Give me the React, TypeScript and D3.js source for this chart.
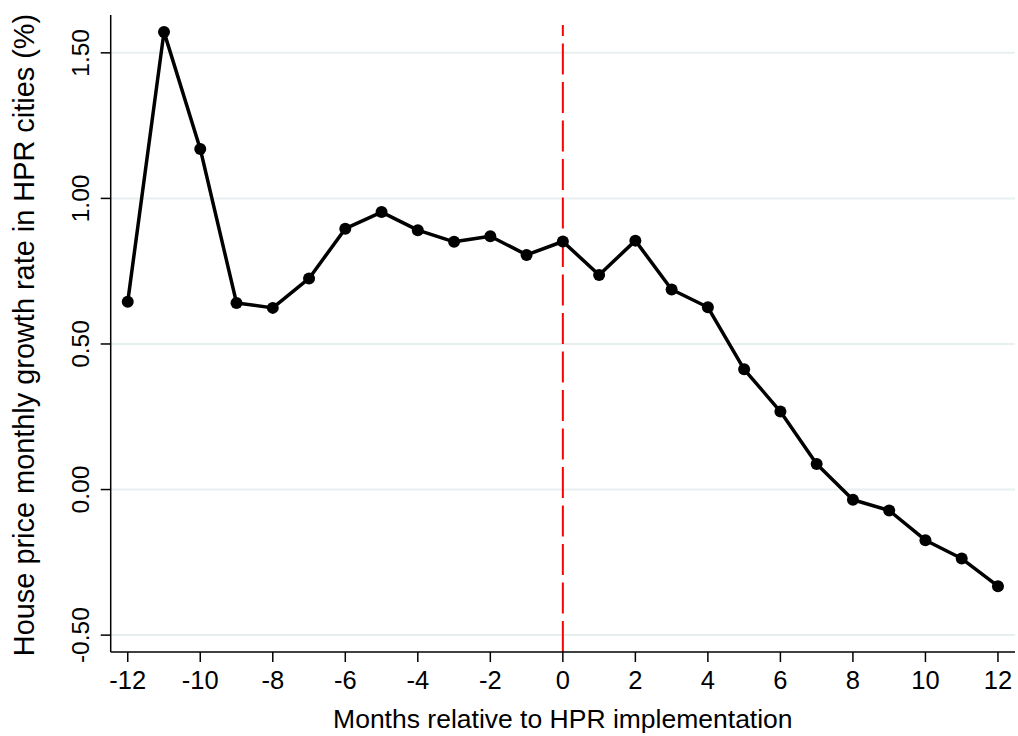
import React from "react";
import * as d3 from "d3";

// months relative to HPR implementation
const months = [-12, -11, -10, -9, -8, -7, -6, -5, -4, -3, -2, -1, 0, 1, 2, 3, 4, 5, 6, 7, 8, 9, 10, 11, 12];
// house price monthly growth rate (%)
const growth = [
  0.645, 1.572, 1.17, 0.641, 0.624, 0.725, 0.896, 0.953, 0.891, 0.851, 0.87, 0.806, 0.852,
  0.737, 0.855, 0.687, 0.626, 0.413, 0.268, 0.088, -0.035, -0.072, -0.174, -0.237, -0.332,
];
const xTicks = [-12, -10, -8, -6, -4, -2, 0, 2, 4, 6, 8, 10, 12];
const yTicks = [-0.5, 0, 0.5, 1, 1.5];
const yTickLabels = ["-0.50", "0.00", "0.50", "1.00", "1.50"];
const eventMonth = 0;

const W = 1018;
const H = 736;
const left = 110.7;
const right = 1015;
const top = 15;
const bottom = 652;
const font = "'Liberation Sans', Arial, Helvetica, sans-serif";

export default function App() {
  const x = d3.scaleLinear().domain([-12.47, 12.47]).range([left, right]);
  const y = d3.scaleLinear().domain([-0.558, 1.63]).range([bottom, top]);

  const pts = months.map((m, i) => [m, growth[i]] as [number, number]);
  const line = d3
    .line<[number, number]>()
    .x((d) => x(d[0]))
    .y((d) => y(d[1]));

  return (
    <svg width={W} height={H} style={{ position: "absolute", left: 0, top: 0, background: "#fff" }}>
      <rect x={0} y={0} width={W} height={H} fill="#fff" />
      {/* grid */}
      {yTicks.map((t) => (
        <line key={"g" + t} x1={left} x2={right} y1={y(t)} y2={y(t)} stroke="#e8eff1" strokeWidth={2} />
      ))}
      {/* event line */}
      <line
        x1={x(eventMonth)}
        x2={x(eventMonth)}
        y1={top + 10}
        y2={bottom}
        stroke="#ff0000"
        strokeWidth={2}
        strokeDasharray="31 7.5"
        strokeDashoffset={20}
      />
      {/* series */}
      <path d={line(pts) || ""} fill="none" stroke="#000" strokeWidth={3.5} strokeLinejoin="round" />
      {pts.map((d) => (
        <circle key={"p" + d[0]} cx={x(d[0])} cy={y(d[1])} r={6} fill="#000" />
      ))}
      {/* axes */}
      <line x1={left} x2={left} y1={top} y2={bottom} stroke="#000" strokeWidth={1.5} />
      <line x1={left} x2={right} y1={bottom} y2={bottom} stroke="#000" strokeWidth={1.5} />
      {yTicks.map((t, i) => (
        <g key={"y" + t}>
          <line x1={left - 10} x2={left} y1={y(t)} y2={y(t)} stroke="#000" strokeWidth={1.5} />
          <text
            transform={`translate(89,${y(t)}) rotate(-90)`}
            textAnchor="middle"
            fontFamily={font}
            fontSize={24.5}
            fill="#000"
          >
            {yTickLabels[i]}
          </text>
        </g>
      ))}
      {xTicks.map((t) => (
        <g key={"x" + t}>
          <line x1={x(t)} x2={x(t)} y1={bottom} y2={bottom + 10} stroke="#000" strokeWidth={1.5} />
          <text x={x(t)} y={689} textAnchor="middle" fontFamily={font} fontSize={25.5} fill="#000">
            {t}
          </text>
        </g>
      ))}
      <text x={(left + right) / 2} y={727.5} textAnchor="middle" fontFamily={font} fontSize={26.5} fill="#000">
        Months relative to HPR implementation
      </text>
      <text
        transform={`translate(33.5,335) rotate(-90)`}
        textAnchor="middle"
        fontFamily={font}
        fontSize={28.9}
        fill="#000"
      >
        House price monthly growth rate in HPR cities (%)
      </text>
    </svg>
  );
}
